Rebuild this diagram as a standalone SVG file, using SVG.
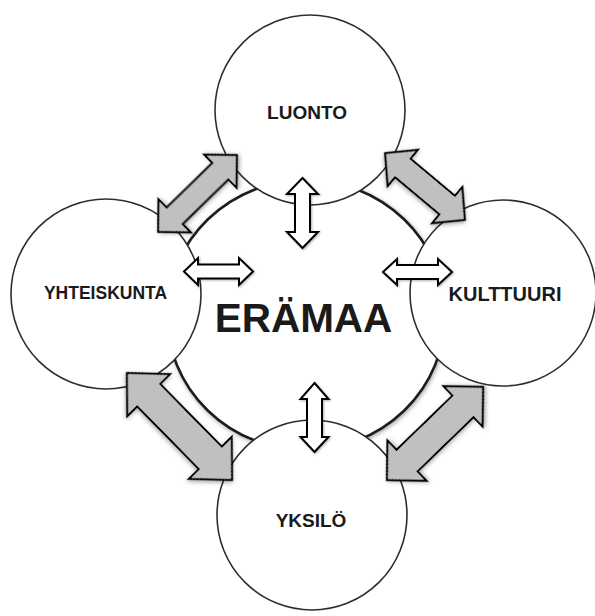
<svg xmlns="http://www.w3.org/2000/svg" width="595" height="616" viewBox="0 0 595 616">
  <defs>
    <filter id="sh" x="-20%" y="-20%" width="140%" height="140%">
      <feDropShadow dx="1" dy="1.5" stdDeviation="2" flood-color="#000" flood-opacity="0.35"/>
    </filter>
    <filter id="shs" x="-20%" y="-20%" width="140%" height="140%">
      <feDropShadow dx="1" dy="1" stdDeviation="1.2" flood-color="#000" flood-opacity="0.3"/>
    </filter>
    <style>
      .small { fill: #ffffff; stroke: #2e2e2e; stroke-width: 1.6; }
      .big { fill: #ffffff; stroke: #1e1e1e; stroke-width: 2.6; }
      .garrow { fill: #c0c0c0; stroke: #000; stroke-width: 2; stroke-linejoin: miter; }
      .warrow { fill: #ffffff; stroke: #000; stroke-width: 2; stroke-linejoin: miter; }
      .lbl { font-family: "Liberation Sans", Arial, sans-serif; font-weight: bold; fill: #1a1a1a; text-anchor: middle; }
    </style>
  </defs>
  <rect width="595" height="616" fill="#ffffff"/>

  <g id="eramaa">
    <ellipse class="big" cx="306" cy="315" rx="139" ry="135" filter="url(#sh)"/>
  </g>

  <g id="luonto">
    <circle class="small" cx="310" cy="110" r="95"/>
    <text class="lbl" x="307" y="119" font-size="19">LUONTO</text>
  </g>
  <g id="yhteiskunta">
    <circle class="small" cx="106" cy="294" r="95"/>
    <text class="lbl" x="105.5" y="299" font-size="17.5">YHTEISKUNTA</text>
  </g>
  <g id="kulttuuri">
    <circle class="small" cx="503" cy="293" r="93"/>
    <text class="lbl" x="505" y="301" font-size="20">KULTTUURI</text>
  </g>
  <g id="yksilo">
    <circle class="small" cx="312" cy="515" r="95"/>
    <text class="lbl" x="311" y="527" font-size="19">YKSILÖ</text>
  </g>

  <g id="eramaa-label">
    <text class="lbl" x="303.5" y="332" font-size="40.5" fill="#111">ERÄMAA</text>
  </g>

  <g id="connectors">
    <path class="garrow" filter="url(#sh)" transform="translate(197.5,193.5) rotate(-44.3)" d="M55,0 L32,-23 L32,-11.5 L-32,-11.5 L-32,-23 L-55,0 L-32,23 L-32,11.5 L32,11.5 L32,23 Z"/>
    <path class="garrow" filter="url(#sh)" transform="translate(425,186.5) rotate(39.9)" d="M52,0 L29,-23.5 L29,-12 L-29,-12 L-29,-23.5 L-52,0 L-29,23.5 L-29,12 L29,12 L29,23.5 Z"/>
    <path class="garrow" filter="url(#sh)" transform="translate(179.5,426.5) rotate(45.5)" d="M75,0 L44,-30 L44,-16 L-44,-16 L-44,-30 L-75,0 L-44,30 L-44,16 L44,16 L44,30 Z"/>
    <path class="garrow" filter="url(#sh)" transform="translate(435,433.5) rotate(-44.1)" d="M67,0 L39,-28 L39,-15 L-39,-15 L-39,-28 L-67,0 L-39,28 L-39,15 L39,15 L39,28 Z"/>

    <path class="warrow" filter="url(#shs)" d="M302.5,178 L318,194 L310,194 L310,232 L318,232 L302.5,248 L287,232 L295,232 L295,194 L287,194 Z"/>
    <path class="warrow" filter="url(#shs)" d="M184,271.5 L198,258 L198,264.5 L239,264.5 L239,258 L253,271.5 L239,285 L239,278.5 L198,278.5 L198,285 Z"/>
    <path class="warrow" filter="url(#shs)" d="M383,272 L397,259 L397,265 L438,265 L438,259 L452,272 L438,285 L438,279 L397,279 L397,285 Z"/>
    <path class="warrow" filter="url(#shs)" d="M314.5,383 L328.5,399 L322,399 L322,437 L328.5,437 L314.5,452 L300.5,437 L307,437 L307,399 L300.5,399 Z"/>
  </g>
</svg>
